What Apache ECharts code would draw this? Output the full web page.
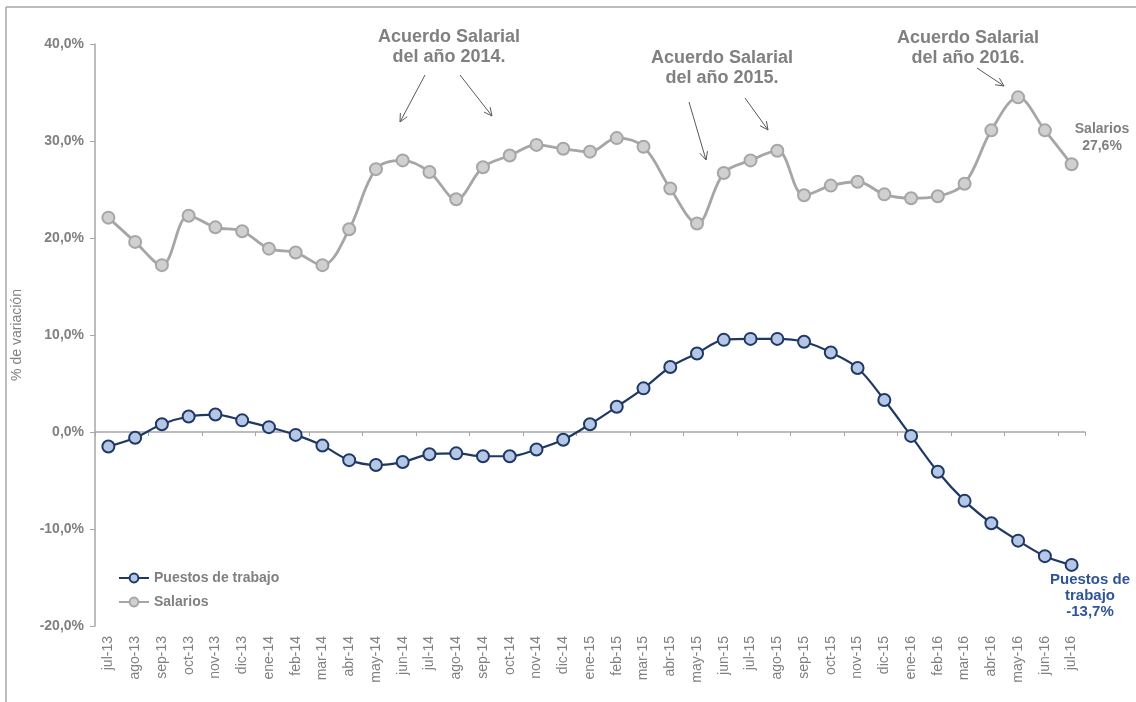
<!DOCTYPE html>
<html>
<head>
<meta charset="utf-8">
<script src="https://cdn.jsdelivr.net/npm/echarts@6/dist/echarts.min.js"></script>
<style>
  html, body { margin: 0; padding: 0; background: #fff; }
  #chart { width: 1136px; height: 702px; }
</style>
</head>
<body>
<div id="chart"></div>
<script>
// meses jul-13 .. jul-16
const meses = [
  "jul-13", "ago-13", "sep-13", "oct-13", "nov-13", "dic-13",
  "ene-14", "feb-14", "mar-14", "abr-14", "may-14", "jun-14",
  "jul-14", "ago-14", "sep-14", "oct-14", "nov-14", "dic-14",
  "ene-15", "feb-15", "mar-15", "abr-15", "may-15", "jun-15",
  "jul-15", "ago-15", "sep-15", "oct-15", "nov-15", "dic-15",
  "ene-16", "feb-16", "mar-16", "abr-16", "may-16", "jun-16", "jul-16"
];
const puestos = [
  -1.5, -0.6, 0.8, 1.6, 1.8, 1.2,
  0.5, -0.3, -1.4, -2.9, -3.4, -3.1,
  -2.3, -2.2, -2.5, -2.5, -1.8, -0.8,
  0.8, 2.6, 4.5, 6.7, 8.1, 9.5,
  9.6, 9.6, 9.3, 8.2, 6.6, 3.3,
  -0.4, -4.1, -7.1, -9.4, -11.2, -12.8, -13.7
];
const salarios = [
  22.1, 19.6, 17.2, 22.3, 21.1, 20.7,
  18.9, 18.5, 17.2, 20.9, 27.1, 28.0,
  26.8, 24.0, 27.3, 28.5, 29.6, 29.2,
  28.9, 30.3, 29.4, 25.1, 21.5, 26.7,
  28.0, 29.0, 24.4, 25.4, 25.8, 24.5,
  24.1, 24.3, 25.6, 31.1, 34.5, 31.1, 27.6
];

const gris = "#808080";
const navy = "#1f3864";

const chart = echarts.init(document.getElementById("chart"));

// flecha abierta (linea + punta en V)
function flecha(x1, y1, x2, y2) {
  const a = Math.atan2(y2 - y1, x2 - x1);
  const l = 9, w = 0.45;
  const p1 = [x2 - l * Math.cos(a - w), y2 - l * Math.sin(a - w)];
  const p2 = [x2 - l * Math.cos(a + w), y2 - l * Math.sin(a + w)];
  const st = { stroke: "#595959", lineWidth: 1, fill: null };
  return [
    { type: "line", shape: { x1, y1, x2, y2 }, style: st },
    { type: "polyline", shape: { points: [p1, [x2, y2], p2] }, style: st }
  ];
}

function texto(x, y, t, color, size, lh) {
  return {
    type: "text", x, y,
    style: {
      text: t, fill: color, align: "center", verticalAlign: "top",
      font: "bold " + size + "px Arial, 'Liberation Sans', sans-serif",
      lineHeight: lh
    }
  };
}

const graficos = [
  { type: "line", shape: { x1: 6, y1: 7, x2: 1136, y2: 7 }, style: { stroke: "#a6a6a6", lineWidth: 1.5 } },
  { type: "line", shape: { x1: 6, y1: 7, x2: 6, y2: 702 }, style: { stroke: "#a6a6a6", lineWidth: 1.5 } },
  texto(449, 27, "Acuerdo Salarial\ndel año 2014.", gris, 18, 20),
  texto(722, 48, "Acuerdo Salarial\ndel año 2015.", gris, 18, 20),
  texto(968, 28, "Acuerdo Salarial\ndel año 2016.", gris, 18, 20),
  texto(1102, 121, "Salarios\n27,6%", gris, 14, 17),
  texto(1090, 572, "Puestos de\ntrabajo\n-13,7%", "#2f5597", 15, 16)
]
  .concat(flecha(425, 75, 400, 122))
  .concat(flecha(460, 75, 492, 116))
  .concat(flecha(689, 102, 706, 160))
  .concat(flecha(745, 98, 768, 130))
  .concat(flecha(977, 68, 1004, 86));

chart.setOption({
  animation: false,
  textStyle: { fontFamily: "Arial, 'Liberation Sans', sans-serif" },
  grid: { left: 95, right: 51, top: 44, bottom: 76, outerBoundsMode: "none", containLabel: false },
  legend: {
    orient: "vertical",
    left: 113,
    top: 566,
    itemGap: 10,
    itemWidth: 30,
    itemHeight: 11,
    textStyle: { color: gris, fontWeight: "bold", fontSize: 14 },
    data: ["Puestos de trabajo", "Salarios"]
  },
  xAxis: [
    {
      // etiquetas abajo
      type: "category",
      data: meses,
      boundaryGap: true,
      axisLine: { onZero: false, show: false },
      axisTick: { show: false },
      axisLabel: { rotate: 90, interval: 0, color: gris, fontSize: 14, margin: 10 }
    },
    {
      // eje en cero
      type: "category",
      data: meses,
      boundaryGap: true,
      position: "bottom",
      axisLine: { onZero: true, lineStyle: { color: "#a6a6a6", width: 1.5 } },
      axisTick: { show: true, length: 4, lineStyle: { color: "#a6a6a6" } },
      axisLabel: { show: false }
    }
  ],
  yAxis: {
    type: "value",
    min: -20, max: 40, interval: 10,
    name: "% de variación",
    nameLocation: "middle",
    nameGap: 71,
    nameTextStyle: { color: gris, fontSize: 14 },
    axisLine: { show: true, lineStyle: { color: "#a6a6a6", width: 1.5 } },
    axisTick: { show: true, length: 5, lineStyle: { color: "#a6a6a6" } },
    splitLine: { show: false },
    axisLabel: {
      color: gris, fontWeight: "bold", fontSize: 14, margin: 11,
      formatter: v => v.toFixed(1).replace(".", ",") + "%"
    }
  },
  series: [
    {
      name: "Puestos de trabajo",
      type: "line",
      data: puestos,
      smooth: 0.35,
      symbol: "circle",
      symbolSize: 12,
      lineStyle: { color: navy, width: 2.2 },
      itemStyle: { color: "#b4c7e7", borderColor: navy, borderWidth: 2 }
    },
    {
      name: "Salarios",
      type: "line",
      data: salarios,
      smooth: 0.35,
      symbol: "circle",
      symbolSize: 12,
      lineStyle: { color: "#a6a6a6", width: 2.8 },
      itemStyle: { color: "#d0d0d0", borderColor: "#a6a6a6", borderWidth: 2 }
    }
  ],
  graphic: graficos
});
</script>
</body>
</html>
